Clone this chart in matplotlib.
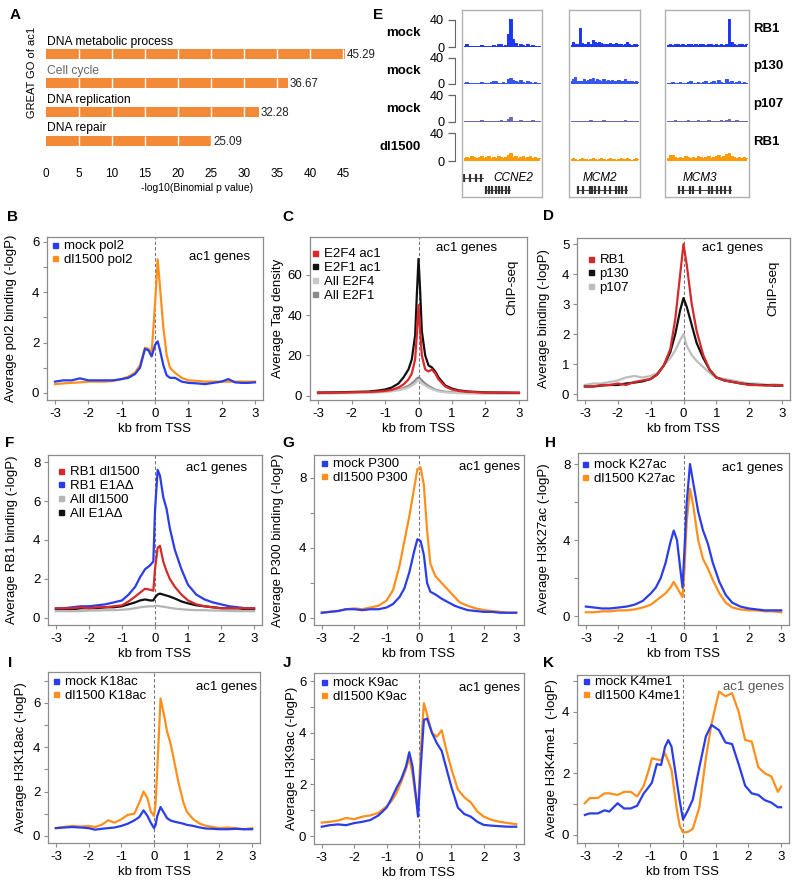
import matplotlib
matplotlib.use("Agg")
import matplotlib.pyplot as plt
from matplotlib.lines import Line2D
import numpy as np

plt.rcParams['font.family'] = ['Liberation Sans', 'DejaVu Sans']

W, H = 800, 889

BLUE = '#2a3de8'
ORANGE = '#ff8f1c'
RED = '#e0262b'
DRED = '#d42a2a'
BLACK = '#111111'
LGRAY = '#c8c8c8'
MGRAY = '#8a8a8a'
FRAME = '#8c8c8c'

# ---------------- A: GREAT GO terms ----------------
a_terms = ['DNA metabolic process', 'Cell cycle', 'DNA replication', 'DNA repair']
a_term_colors = ['black', '#666666', 'black', 'black']
a_vals = [45.29, 36.67, 32.28, 25.09]

# ---------------- E: browser tracks ----------------
e_genes = ['CCNE2', 'MCM2', 'MCM3']
e_rows = ['mock', 'mock', 'mock', 'dl1500']
e_factors = ['RB1', 'p130', 'p107', 'RB1']
e_colors = ['#1d37f2', '#3656f0', '#6a6aae', '#ff9a00']
e_tracks = [
    # RB1 mock
    [[1, 4, 1, 1, 2, 1, 2, 3, 1, 2, 2, 1, 3, 2, 4, 5, 2, 3, 20, 42, 12, 6, 2, 4, 3, 2, 4, 2, 3, 2, 1, 2],
     [3, 7, 5, 4, 28, 6, 5, 4, 7, 4, 10, 7, 6, 8, 6, 5, 4, 5, 6, 4, 5, 6, 4, 5, 3, 4, 7, 4, 3, 5, 4, 3],
     [3, 4, 3, 4, 5, 3, 4, 3, 4, 5, 3, 4, 3, 5, 4, 3, 4, 5, 3, 4, 3, 4, 3, 4, 42, 8, 5, 3, 4, 5, 3, 4]],
    # p130 mock
    [[2, 3, 2, 2, 2, 1, 2, 3, 2, 2, 2, 3, 4, 5, 2, 2, 3, 2, 8, 10, 6, 4, 3, 6, 3, 2, 5, 3, 2, 3, 2, 2],
     [4, 8, 11, 5, 4, 5, 7, 4, 6, 8, 9, 5, 8, 6, 4, 7, 5, 6, 4, 6, 5, 4, 6, 4, 5, 7, 4, 5, 4, 3, 4, 3],
     [2, 2, 3, 2, 2, 3, 2, 2, 3, 5, 2, 2, 3, 2, 3, 5, 2, 3, 4, 2, 6, 3, 2, 7, 3, 4, 2, 3, 5, 2, 3, 2]],
    # p107 mock
    [[1, 2, 1, 1, 2, 1, 1, 3, 1, 1, 1, 2, 1, 1, 2, 3, 1, 2, 4, 8, 2, 1, 2, 3, 1, 2, 1, 2, 3, 1, 2, 1],
     [1, 1, 2, 1, 1, 2, 1, 1, 2, 3, 1, 1, 2, 1, 1, 3, 1, 2, 1, 2, 1, 1, 2, 1, 1, 3, 1, 1, 2, 1, 1, 1],
     [2, 1, 2, 3, 2, 1, 2, 2, 3, 1, 2, 2, 3, 2, 1, 2, 3, 2, 2, 1, 2, 3, 2, 3, 5, 2, 2, 3, 2, 1, 2, 1]],
    # RB1 dl1500
    [[5, 6, 4, 7, 6, 5, 6, 7, 5, 6, 7, 5, 6, 5, 7, 6, 5, 6, 8, 12, 6, 7, 5, 6, 7, 5, 6, 7, 5, 6, 5, 4],
     [3, 4, 3, 2, 3, 4, 3, 3, 2, 3, 4, 3, 2, 3, 5, 3, 2, 3, 4, 3, 3, 2, 3, 4, 3, 3, 4, 3, 2, 3, 4, 3],
     [5, 8, 9, 6, 5, 6, 5, 7, 6, 5, 6, 5, 7, 6, 5, 6, 7, 5, 6, 7, 8, 6, 7, 10, 12, 7, 6, 5, 6, 5, 6, 5]],
]
# gene models: (start, end, row) and exon positions, as fractions of each box
e_models = [
    [((0.02, 0.26), 'label', [0.03, 0.10, 0.17, 0.24]),
     ((0.29, 0.60), 'model', [0.30, 0.34, 0.38, 0.42, 0.46, 0.50, 0.55, 0.59])],
    [((0.12, 0.82), 'model', [0.13, 0.20, 0.30, 0.33, 0.37, 0.42, 0.50, 0.58, 0.66, 0.70, 0.75, 0.80])],
    [((0.16, 0.78), 'model', [0.17, 0.22, 0.30, 0.33, 0.42, 0.52, 0.56, 0.62, 0.67, 0.72, 0.77])],
]
e_label_x = [0.64, 0.44, 0.42]

# ---------------- B: pol2 ----------------
b_x = [-3, -2.75, -2.5, -2.25, -2, -1.75, -1.5, -1.25, -1, -0.8, -0.6, -0.45, -0.3, -0.2, -0.1, 0, 0.08,
       0.15, 0.25, 0.35, 0.45, 0.6, 0.8, 1, 1.25, 1.5, 1.75, 2, 2.2, 2.4, 2.6, 2.8, 3]
b_mock = [0.45, 0.5, 0.5, 0.58, 0.5, 0.5, 0.5, 0.5, 0.55, 0.6, 0.75, 1.0, 1.75, 1.7, 1.45, 1.9, 2.05,
          1.7, 1.1, 0.7, 0.6, 0.6, 0.45, 0.4, 0.38, 0.35, 0.4, 0.45, 0.55, 0.42, 0.4, 0.4, 0.42]
b_dl = [0.35, 0.38, 0.4, 0.42, 0.45, 0.45, 0.45, 0.48, 0.55, 0.65, 0.8, 1.1, 1.8, 1.75, 1.6, 3.5, 5.3,
        4.2, 2.6, 1.5, 1.0, 0.8, 0.6, 0.5, 0.48, 0.45, 0.45, 0.45, 0.45, 0.45, 0.45, 0.45, 0.45]

# ---------------- C: E2F tag density ----------------
c_x = [-3, -2.5, -2, -1.5, -1.2, -1, -0.8, -0.6, -0.45, -0.3, -0.2, -0.1, -0.05, 0, 0.05, 0.1, 0.2,
       0.3, 0.4, 0.5, 0.6, 0.8, 1, 1.2, 1.5, 2, 2.5, 3]
c_e2f4_ac1 = [1.5, 1.5, 1.6, 1.8, 2.0, 2.3, 2.8, 4, 5.5, 8, 11, 18, 30, 45, 32, 20, 13, 12, 13, 11, 8,
              4.5, 3, 2.3, 1.8, 1.5, 1.5, 1.4]
c_e2f1_ac1 = [1.5, 1.6, 1.8, 2.0, 2.5, 3, 4, 6, 9, 13, 18, 30, 50, 68, 52, 32, 20, 15, 14, 12, 9, 5,
              3.5, 2.6, 2, 1.6, 1.5, 1.4]
c_all_e2f4 = [1.0, 1.1, 1.2, 1.4, 1.6, 1.8, 2.1, 2.6, 3.2, 4, 5, 6, 7, 7.5, 7, 6, 5, 4, 3.2, 2.6, 2.1,
              1.6, 1.4, 1.2, 1.1, 1.0, 1.0, 1.0]
c_all_e2f1 = [1.2, 1.3, 1.4, 1.6, 1.9, 2.1, 2.5, 3.0, 3.8, 4.8, 6, 7.5, 8.5, 9, 8.5, 7.5, 6, 4.8, 3.8,
              3.0, 2.5, 1.9, 1.6, 1.4, 1.3, 1.2, 1.2, 1.2]

# ---------------- D: pocket proteins ----------------
d_x = [-3, -2.75, -2.5, -2.25, -2, -1.75, -1.5, -1.25, -1, -0.8, -0.6, -0.4, -0.25, -0.1, 0, 0.1, 0.25,
       0.4, 0.6, 0.8, 1, 1.25, 1.5, 1.75, 2, 2.25, 2.5, 2.75, 3]
d_rb1 = [0.25, 0.25, 0.3, 0.3, 0.35, 0.3, 0.4, 0.45, 0.5, 0.65, 0.95, 1.5, 2.5, 4.0, 5.0, 4.3, 3.0, 2.1,
         1.3, 0.8, 0.55, 0.45, 0.4, 0.35, 0.3, 0.3, 0.28, 0.3, 0.28]
d_p130 = [0.25, 0.25, 0.28, 0.3, 0.3, 0.35, 0.38, 0.42, 0.5, 0.65, 0.95, 1.4, 2.0, 2.8, 3.2, 2.9, 2.3,
          1.7, 1.2, 0.8, 0.55, 0.45, 0.4, 0.35, 0.32, 0.3, 0.3, 0.28, 0.28]
d_p107 = [0.3, 0.35, 0.35, 0.4, 0.45, 0.55, 0.6, 0.55, 0.6, 0.7, 0.95, 1.2, 1.45, 1.8, 2.0, 1.6, 1.3,
          1.1, 0.9, 0.7, 0.55, 0.5, 0.45, 0.4, 0.35, 0.35, 0.3, 0.32, 0.3]

# ---------------- F: RB1 binding ----------------
f_x = [-3, -2.75, -2.5, -2.25, -2, -1.75, -1.5, -1.25, -1, -0.8, -0.6, -0.45, -0.3, -0.15, -0.05, 0,
       0.08, 0.15, 0.25, 0.35, 0.45, 0.6, 0.8, 1, 1.25, 1.5, 1.75, 2, 2.25, 2.5, 2.75, 3]
f_rb1_dl = [0.5, 0.5, 0.5, 0.55, 0.5, 0.55, 0.55, 0.6, 0.65, 0.85, 1.1, 1.3, 1.5, 1.45, 1.4, 2.5, 3.6,
            3.7, 2.9, 2.4, 2.0, 1.6, 1.2, 0.9, 0.7, 0.6, 0.55, 0.5, 0.5, 0.5, 0.5, 0.5]
f_rb1_e1a = [0.5, 0.5, 0.55, 0.6, 0.6, 0.65, 0.7, 0.8, 0.9, 1.2, 1.6, 2.1, 2.5, 2.7, 2.9, 5.5, 7.6,
             7.3, 6.2, 5.6, 4.6, 3.5, 2.5, 1.7, 1.2, 0.95, 0.8, 0.7, 0.6, 0.55, 0.5, 0.5]
f_all_dl = [0.35, 0.35, 0.35, 0.35, 0.38, 0.38, 0.4, 0.4, 0.42, 0.45, 0.5, 0.55, 0.58, 0.6, 0.6, 0.62,
            0.62, 0.6, 0.58, 0.55, 0.52, 0.48, 0.45, 0.42, 0.4, 0.4, 0.38, 0.38, 0.36, 0.35, 0.35, 0.35]
f_all_e1a = [0.45, 0.45, 0.45, 0.5, 0.5, 0.5, 0.55, 0.55, 0.6, 0.7, 0.8, 0.9, 0.95, 0.9, 0.9, 1.05,
             1.2, 1.25, 1.2, 1.15, 1.1, 1.0, 0.85, 0.75, 0.65, 0.6, 0.55, 0.5, 0.5, 0.5, 0.45, 0.45]

# ---------------- G: P300 ----------------
g_x = [-3, -2.75, -2.5, -2.25, -2, -1.75, -1.5, -1.25, -1, -0.8, -0.6, -0.45, -0.3, -0.15, -0.05, 0.05,
       0.15, 0.25, 0.35, 0.5, 0.7, 0.9, 1.1, 1.25, 1.5, 1.75, 2, 2.25, 2.5, 2.75, 3]
g_mock = [0.3, 0.35, 0.4, 0.5, 0.5, 0.45, 0.5, 0.5, 0.6, 0.8, 1.2, 1.7, 2.6, 3.8, 4.5, 4.4, 3.6, 2.0,
          1.5, 1.35, 1.1, 0.9, 0.7, 0.6, 0.45, 0.4, 0.35, 0.35, 0.3, 0.3, 0.3]
g_dl = [0.3, 0.35, 0.4, 0.5, 0.55, 0.5, 0.6, 0.7, 1.0, 1.6, 3.0, 4.4, 5.8, 7.4, 8.5, 8.6, 7.6, 5.0,
        3.1, 2.4, 2.0, 1.6, 1.2, 0.9, 0.7, 0.55, 0.45, 0.4, 0.35, 0.3, 0.3]

# ---------------- H: H3K27ac ----------------
h_x = [-3, -2.75, -2.5, -2.25, -2, -1.75, -1.5, -1.25, -1, -0.85, -0.7, -0.55, -0.4, -0.3, -0.2, -0.1,
       -0.03, 0.03, 0.1, 0.2, 0.3, 0.45, 0.6, 0.75, 0.9, 1.1, 1.3, 1.5, 1.75, 2, 2.25, 2.5, 2.75, 3]
h_mock = [0.5, 0.45, 0.4, 0.4, 0.45, 0.5, 0.6, 0.8, 1.2, 1.5, 2.0, 2.8, 3.9, 4.5, 4.0, 2.5, 1.5, 3.5,
          6.0, 8.0, 7.0, 5.5, 4.5, 3.8, 2.8, 1.8, 1.1, 0.7, 0.5, 0.4, 0.35, 0.3, 0.3, 0.3]
h_dl = [0.2, 0.2, 0.25, 0.25, 0.3, 0.3, 0.35, 0.45, 0.6, 0.8, 1.0, 1.2, 1.5, 1.8, 1.5, 1.2, 1.0, 2.5,
        5.0, 6.7, 5.8, 4.0, 3.0, 2.5, 1.9, 1.2, 0.7, 0.45, 0.35, 0.3, 0.3, 0.25, 0.25, 0.2]

# ---------------- I: H3K18ac ----------------
i_x = [-3, -2.75, -2.5, -2.25, -2, -1.8, -1.6, -1.4, -1.2, -1, -0.8, -0.6, -0.45, -0.32, -0.2, -0.1, 0,
       0.05, 0.1, 0.2, 0.3, 0.4, 0.5, 0.6, 0.75, 0.9, 1, 1.2, 1.4, 1.6, 1.8, 2, 2.25, 2.5, 2.75, 3]
i_mock = [0.35, 0.38, 0.4, 0.38, 0.35, 0.28, 0.32, 0.35, 0.38, 0.45, 0.55, 0.7, 0.85, 1.15, 0.9, 0.6,
          0.35, 0.5, 0.9, 1.3, 1.05, 0.8, 0.7, 0.65, 0.6, 0.55, 0.5, 0.45, 0.38, 0.33, 0.32, 0.3, 0.3,
          0.32, 0.3, 0.3]
i_dl = [0.35, 0.4, 0.45, 0.42, 0.45, 0.4, 0.5, 0.7, 0.6, 0.75, 0.95, 1.0, 1.5, 2.0, 1.7, 1.1, 0.9, 1.5,
        3.0, 6.2, 5.5, 4.7, 4.2, 3.5, 2.4, 1.5, 1.1, 0.75, 0.55, 0.45, 0.4, 0.35, 0.38, 0.35, 0.3, 0.35]

# ---------------- J: H3K9ac ----------------
j_x = [-3, -2.75, -2.5, -2.25, -2, -1.75, -1.5, -1.25, -1, -0.85, -0.7, -0.55, -0.4, -0.3, -0.2, -0.1,
       -0.03, 0.05, 0.15, 0.25, 0.4, 0.55, 0.7, 0.85, 1, 1.2, 1.4, 1.6, 1.8, 2, 2.25, 2.5, 2.75, 3]
j_mock = [0.36, 0.42, 0.45, 0.42, 0.5, 0.55, 0.62, 0.8, 1.1, 1.45, 1.85, 2.2, 2.7, 3.25, 2.7, 1.6, 0.75,
          2.6, 4.5, 4.55, 4.0, 3.6, 3.3, 2.6, 1.9, 1.1, 0.85, 0.75, 0.55, 0.43, 0.4, 0.38, 0.36, 0.36]
j_dl = [0.52, 0.55, 0.6, 0.7, 0.65, 0.75, 0.8, 0.9, 1.15, 1.35, 1.65, 2.1, 2.6, 3.05, 2.4, 1.5, 1.0,
        3.2, 5.15, 4.7, 4.0, 3.85, 4.1, 3.3, 2.6, 1.8, 1.5, 1.3, 0.95, 0.75, 0.62, 0.55, 0.5, 0.46]

# ---------------- K: H3K4me1 ----------------
k_x = [-3, -2.85, -2.6, -2.4, -2.25, -2, -1.8, -1.6, -1.4, -1.2, -1.05, -0.95, -0.8, -0.67, -0.55,
       -0.45, -0.35, -0.2, -0.1, 0, 0.15, 0.3, 0.5, 0.7, 0.87, 1.1, 1.3, 1.5, 1.7, 1.9, 2.1, 2.3, 2.5,
       2.7, 2.9, 3]
k_mock = [0.65, 0.7, 0.7, 0.8, 0.76, 1.03, 0.86, 0.86, 0.95, 1.35, 1.55, 1.7, 2.3, 2.27, 2.86, 3.08,
          2.86, 1.8, 1.1, 0.5, 0.8, 1.15, 2.2, 3.2, 3.57, 3.4, 3.0, 2.95, 2.3, 1.6, 1.35, 1.3, 1.13,
          1.05, 0.9, 0.9]
k_dl = [1.03, 1.2, 1.2, 1.35, 1.35, 1.3, 1.4, 1.4, 1.25, 1.6, 2.1, 2.49, 2.45, 2.43, 2.65, 2.4, 2.1,
        0.9, 0.3, 0.08, 0.1, 0.2, 0.9, 2.5, 3.6, 4.65, 4.5, 4.6, 4.0, 3.08, 3.03, 2.2, 2.0, 1.9, 1.4,
        1.57]

x_ticks = [-3, -2, -1, 0, 1, 2, 3]
FS = 9.5


def rect(l, t, r, b):
    return [l / W, 1 - b / H, (r - l) / W, (b - t) / H]


def pt(x, y):
    return (x / W, 1 - y / H)


fig = plt.figure(figsize=(W / 100, H / 100), dpi=100)


def letter(ch, x, y):
    fig.text(*pt(x, y), ch, fontsize=11, fontweight='bold', ha='center', va='center')


def profile(box, x, curves, ylim, yticks, lab_every, ylabel, ylab_x, leg_xy, genes_xy,
            genes_color='black', chip_xy=None):
    l, t, r, b = box
    ax = fig.add_axes(rect(l, t, r, b))
    ax.axvline(0, color='#777777', ls=(0, (3, 2)), lw=0.8, zorder=1)
    for vals, color, name in curves[::-1]:
        ax.plot(x, vals, color=color, lw=1.6, zorder=2)
    ax.set_xlim(-3.24, 3.24)
    ax.set_ylim(*ylim)
    ax.set_xticks(x_ticks, [str(v) for v in x_ticks])
    ax.set_yticks(yticks, [str(v) if v % lab_every == 0 else '' for v in yticks])
    ax.tick_params(direction='out', length=3, width=0.8, pad=2.5, labelsize=FS, color=FRAME)
    for s in ax.spines.values():
        s.set_color(FRAME)
        s.set_linewidth(0.9)
    ax.set_xlabel('kb from TSS', fontsize=FS)
    ax.xaxis.set_label_coords(0.5, -23 / (b - t))
    ax.set_ylabel(ylabel, fontsize=FS)
    ax.yaxis.set_label_coords((ylab_x + 6.5 - l) / (r - l), 0.5)
    handles = [Line2D([], [], ls='', marker='s', markersize=3.6, color=c) for _, c, _ in curves]
    ax.legend(handles, [n for _, _, n in curves], loc='upper left', bbox_to_anchor=pt(*leg_xy),
              bbox_transform=fig.transFigure, frameon=False, borderaxespad=0, borderpad=0,
              handlelength=0.6, handletextpad=0.35, labelspacing=0.12, fontsize=FS)
    fig.text(*pt(*genes_xy), 'ac1 genes', fontsize=FS, ha='right', va='center', color=genes_color)
    if chip_xy is not None:
        fig.text(*pt(*chip_xy), 'ChIP-seq', fontsize=FS, rotation=90, ha='center', va='center')
    return ax


# ---------------- panel A ----------------
a_left, a_right, a_top, a_bottom = 45.5, 45.5 + 48 * 6.61, 30, 165
axA = fig.add_axes(rect(a_left, a_top, a_right, a_bottom))
pos = np.arange(len(a_vals))
axA.barh(pos, a_vals, height=0.34, color='#f28a38', zorder=2)
for i, v in enumerate(a_vals):
    grid = [g for g in range(5, int(v) + 1, 5) if g < v]
    axA.vlines(grid, i - 0.17, i + 0.17, color='white', lw=1, zorder=3)
    axA.text(v + 0.3, i + 0.05, f'{v:.2f}', fontsize=8.3, va='center', ha='left', color='#222222')
    axA.text(0.2, i - 0.43, a_terms[i], fontsize=8.7, va='center', ha='left', color=a_term_colors[i])
axA.set_xlim(0, 48)
axA.set_ylim(len(a_vals) - 0.17, -0.83)
axA.set_xticks(range(0, 50, 5))
axA.set_yticks([])
axA.tick_params(axis='x', length=0, pad=2, labelsize=8.5)
for s in axA.spines.values():
    s.set_visible(False)
axA.set_xlabel('-log10(Binomial p value)', fontsize=7.5)
axA.xaxis.set_label_coords((197 - a_left) / (a_right - a_left), -(183 - a_bottom) / (a_bottom - a_top))
axA.set_ylabel('GREAT GO of ac1', fontsize=8)
axA.yaxis.set_label_coords((37 - a_left) / (a_right - a_left), 1 - (72 - a_top) / (a_bottom - a_top))

# ---------------- panel E ----------------
e_boxes = [(462, 542), (569, 640), (665, 749)]
e_box_top, e_box_bottom = 10, 197
e_rows_px = [(20, 47), (58, 84), (95, 122), (133, 161)]
xb = (np.arange(32) + 0.5) / 32
for j, (l, r) in enumerate(e_boxes):
    bax = fig.add_axes(rect(l, e_box_top, r, e_box_bottom), zorder=0)
    bax.set_xlim(0, 1)
    bax.set_ylim(e_box_bottom, e_box_top)
    bax.set_xticks([])
    bax.set_yticks([])
    for s in bax.spines.values():
        s.set_color('#b0b0b0')
        s.set_linewidth(1)
    for (x0, x1), kind, exons in e_models[j]:
        yy = 178 if kind == 'label' else 190
        bax.plot([x0, x1], [yy, yy], color='#444444', lw=0.7)
        bax.plot(exons, [yy] * len(exons), ls='', marker='|', markersize=6, mew=1.6, color='#333333')
    bax.text(e_label_x[j], 178, e_genes[j], fontsize=8.5, style='italic', ha='center', va='center')
    for k, (t, b) in enumerate(e_rows_px):
        tax = fig.add_axes(rect(l + 1, t, r - 1, b), zorder=1)
        tax.patch.set_alpha(0)
        vals = e_tracks[k][j]
        tax.fill_between(xb, vals, step='mid', color=e_colors[k], lw=0, clip_on=False)
        tax.step(xb, vals, where='mid', color=e_colors[k], lw=0.7, clip_on=False)
        tax.set_xlim(0, 1)
        tax.set_ylim(0, 40)
        tax.set_xticks([])
        for s in tax.spines.values():
            s.set_visible(False)
        if j == 0:
            tax.spines['left'].set_visible(True)
            tax.spines['left'].set_position(('outward', 6))
            tax.spines['left'].set_color('#666666')
            tax.set_yticks([0, 40])
            tax.tick_params(axis='y', direction='out', length=5, width=0.9, color='#666666',
                            pad=2.5, labelsize=9.2)
        else:
            tax.set_yticks([])
for k, (t, b) in enumerate(e_rows_px):
    fig.text(*pt(421, (t + b) / 2), e_rows[k], fontsize=9.5, fontweight='bold', ha='right', va='center')
    fig.text(*pt(753, (t + b) / 2 - 5), e_factors[k], fontsize=9.5, fontweight='bold',
             ha='left', va='center')

# ---------------- profile panels ----------------
profile((47, 237, 263, 400), b_x,
        [(b_mock, BLUE, 'mock pol2'), (b_dl, ORANGE, 'dl1500 pol2')],
        (-0.28, 6.19), range(0, 7), 2, 'Average pol2 binding (-logP)', 11, (51, 240), (250, 257))

profile((310, 237, 527, 400), c_x,
        [(c_e2f4_ac1, RED, 'E2F4 ac1'), (c_e2f1_ac1, BLACK, 'E2F1 ac1'),
         (c_all_e2f4, LGRAY, 'All E2F4'), (c_all_e2f1, MGRAY, 'All E2F1')],
        (-2.2, 78.9), [0, 20, 40, 60], 20, 'Average Tag density', 278, (311, 248), (497, 248),
        chip_xy=(512, 287))

profile((577, 238, 790, 400), d_x,
        [(d_rb1, DRED, 'RB1'), (d_p130, BLACK, 'p130'), (d_p107, '#bdbdbd', 'p107')],
        (-0.2, 5.2), range(0, 6), 1, 'Average binding (-logP)', 543, (587, 254), (763, 248),
        chip_xy=(773, 288))

profile((48, 455, 262, 625), f_x,
        [(f_rb1_dl, DRED, 'RB1 dl1500'), (f_rb1_e1a, BLUE, 'RB1 E1A\u0394'),
         (f_all_dl, '#b5b5b5', 'All dl1500'), (f_all_e1a, BLACK, 'All E1A\u0394')],
        (-0.36, 8.36), range(0, 9, 2), 2, 'Average RB1 binding (-logP)', 11, (57, 466), (247, 468))

profile((314, 455, 524, 625), g_x,
        [(g_mock, BLUE, 'mock P300'), (g_dl, ORANGE, 'dl1500 P300')],
        (-0.4, 9.31), range(0, 9, 2), 4, 'Average P300 binding (-logP)', 278, (320, 458), (520, 467))

profile((578, 453, 789, 625), h_x,
        [(h_mock, BLUE, 'mock K27ac'), (h_dl, ORANGE, 'dl1500 K27ac')],
        (-0.47, 8.58), range(0, 9, 2), 4, 'Average H3K27ac (-logP)', 544, (581, 459), (783, 468))

profile((48, 672, 260, 843), i_x,
        [(i_mock, BLUE, 'mock K18ac'), (i_dl, ORANGE, 'dl1500 K18ac')],
        (-0.32, 7.39), range(0, 8), 2, 'Average H3K18ac (-logP)', 21, (52, 676), (257, 687))

profile((314, 673, 524, 844), j_x,
        [(j_mock, BLUE, 'mock K9ac'), (j_dl, ORANGE, 'dl1500 K9ac')],
        (-0.31, 6.32), range(0, 7), 2, 'Average H3K9ac (-logP)', 291, (320, 677), (520, 688))

profile((577, 675, 789, 843), k_x,
        [(k_mock, BLUE, 'mock K4me1'), (k_dl, ORANGE, 'dl1500 K4me1')],
        (-0.26, 5.19), range(0, 6), 2, 'Average H3K4me1  (-logP)', 551, (582, 676), (784, 687),
        genes_color='#555555')

for ch, x, y in [('A', 15, 15), ('E', 378, 15), ('B', 13, 217), ('C', 288, 217), ('D', 548, 216),
                 ('F', 10, 443), ('G', 288, 443), ('H', 550, 443), ('I', 10, 663), ('J', 287, 663),
                 ('K', 548, 663)]:
    letter(ch, x, y)

fig.savefig('out.png', dpi=100)
